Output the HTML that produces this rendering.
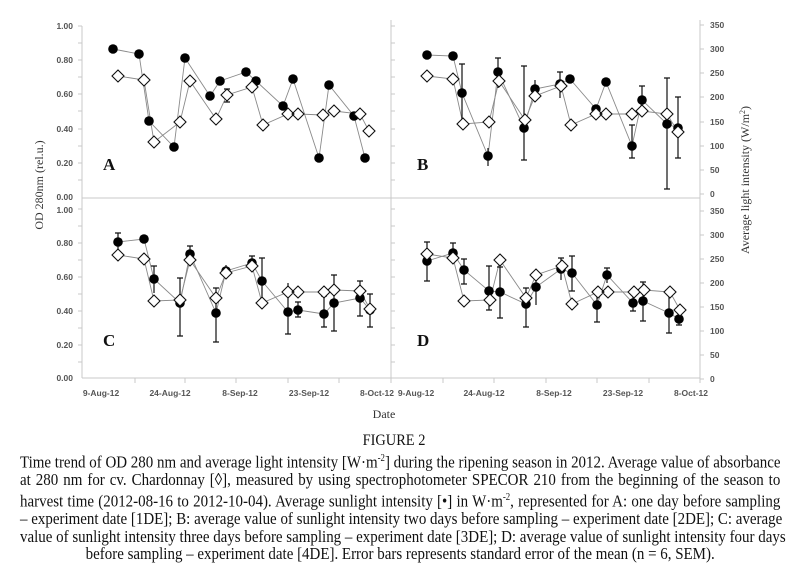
<!DOCTYPE html>
<html><head><meta charset="utf-8"><style>
body{margin:0;background:#fff;width:788px;height:574px;overflow:hidden;position:relative}
svg{position:absolute;left:0;top:0}
.cap{position:absolute;left:20px;top:450px;width:864px;transform:scaleX(0.88);transform-origin:0 0;font-family:"Liberation Serif",serif;font-size:17px;line-height:17.6px;color:#111}
.cap div{text-align:justify;text-align-last:justify;white-space:nowrap}
.cap div.c{text-align:center;text-align-last:center}
.fig{position:absolute;left:0;width:788px;top:432px;text-align:center;font-family:"Liberation Serif",serif;font-size:16px;transform:scaleX(0.9);color:#111}
</style></head><body>
<svg width="788" height="430" viewBox="0 0 788 430" font-family="Liberation Sans, sans-serif">
<g stroke="#c8c8c8" stroke-width="1" fill="none">
<path d="M82 26V378 M391 20V378 M700 20V378 M82 198H700 M82 378H700"/>
</g>
<g id="ticks" stroke="#c8c8c8" stroke-width="1">
<path d="M78 26H82M78 43H82M78 60H82M78 77H82M78 94H82M78 111H82M78 129H82M78 146H82M78 163H82M78 180H82"/>
<path d="M78 209H82M78 226H82M78 243H82M78 260H82M78 277H82M78 294H82M78 311H82M78 328H82M78 345H82M78 362H82"/>
<path d="M391 26H395M391 43H395M391 60H395M391 77H395M391 94H395M391 111H395M391 129H395M391 146H395M391 163H395M391 180H395"/>
<path d="M391 209H395M391 226H395M391 243H395M391 260H395M391 277H395M391 294H395M391 311H395M391 328H395M391 345H395M391 362H395"/>
<path d="M700 25H704M700 49H704M700 73H704M700 97H704M700 122H704M700 146H704M700 170H704M700 194H704"/>
<path d="M700 211H704M700 235H704M700 259H704M700 283H704M700 307H704M700 331H704M700 355H704M700 379H704"/>
<path d="M135 378V383M185 378V383M236 378V383M288 378V383M339 378V383M391 378V383M443 378V383M494 378V383M546 378V383M597 378V383M649 378V383M700 378V383"/>
</g>
<g font-size="8.5" font-weight="bold" fill="#555" text-anchor="end">
<text x="73" y="29">1.00</text><text x="73" y="63">0.80</text><text x="73" y="97">0.60</text><text x="73" y="132">0.40</text><text x="73" y="166">0.20</text><text x="73" y="200">0.00</text>
<text x="73" y="213">1.00</text><text x="73" y="246">0.80</text><text x="73" y="280">0.60</text><text x="73" y="314">0.40</text><text x="73" y="348">0.20</text><text x="73" y="381">0.00</text>
</g>
<g font-size="8.5" font-weight="bold" fill="#555" text-anchor="start">
<text x="710" y="28">350</text><text x="710" y="52">300</text><text x="710" y="76">250</text><text x="710" y="100">200</text><text x="710" y="125">150</text><text x="710" y="149">100</text><text x="710" y="173">50</text><text x="710" y="197">0</text>
<text x="710" y="214">350</text><text x="710" y="238">300</text><text x="710" y="262">250</text><text x="710" y="286">200</text><text x="710" y="310">150</text><text x="710" y="334">100</text><text x="710" y="358">50</text><text x="710" y="382">0</text>
</g>
<g font-size="8.5" font-weight="bold" fill="#555" text-anchor="middle">
<text x="101" y="396">9-Aug-12</text><text x="170" y="396">24-Aug-12</text><text x="240" y="396">8-Sep-12</text><text x="309" y="396">23-Sep-12</text><text x="377" y="396">8-Oct-12</text>
<text x="416" y="396">9-Aug-12</text><text x="484" y="396">24-Aug-12</text><text x="554" y="396">8-Sep-12</text><text x="623" y="396">23-Sep-12</text><text x="691" y="396">8-Oct-12</text>
</g>
<g font-family="Liberation Serif, serif" font-size="12" fill="#333">
<text transform="translate(43,185) rotate(-90)" text-anchor="middle">OD 280nm (rel.u.)</text>
<text transform="translate(749,180) rotate(-90)" text-anchor="middle">Average light intensity (W/m<tspan font-size="8" dy="-4">2</tspan><tspan dy="4">)</tspan></text>
<text x="384" y="418" text-anchor="middle">Date</text>
</g>
<g font-family="Liberation Serif, serif" font-size="17" font-weight="bold" fill="#111">
<text x="103" y="170">A</text><text x="417" y="170">B</text><text x="103" y="346">C</text><text x="417" y="346">D</text>
</g>
<g fill="none" stroke="#8a8a8a" stroke-width="0.9">
<polyline points="113,49 139,54 149,121 174,147 185,58 210,96 220,81 246,72 256,81 283,106 293,79 319,158 329,85 354,116 365,158"/>
<polyline points="118,76 144,80 154,142 180,122 190,81 216,119 227,95 252,87 263,125 288,114 298,114 323,115 334,111 360,114 369,131"/>
<polyline points="427,55 453,56 462,93 488,156 498,72 524,128 535,89 560,84 570,79 596,109 606,82 632,146 642,100 667,124 678,128"/>
<polyline points="427,76 453,79 463,124 489,122 499,81 525,120 535,96 561,86 571,125 596,114 606,114 632,114 642,111 667,114 678,132"/>
<polyline points="118,242 144,239 154,279 180,303 190,254 216,313 226,271 252,263 262,281 288,312 298,310 324,314 334,303 360,298 370,310"/>
<polyline points="118,255 144,259 154,301 180,300 190,260 216,298 226,273 252,266 262,303 288,292 298,292 324,292 334,290 360,291 370,309"/>
<polyline points="427,261 453,253 464,270 489,291 500,292 526,304 536,287 561,269 572,273 597,305 607,275 633,303 643,301 669,313 679,319"/>
<polyline points="427,254 453,258 464,301 490,300 500,260 526,298 536,275 562,266 572,304 598,292 608,292 634,292 644,290 670,292 680,310"/>
</g>
<g stroke="#111" stroke-width="1.2" fill="none">
<path d="M227 89V102M224 89H230M224 102H230"/>
<path d="M427 52V58M462 64V121M459 64H465M488 148V166M498 58V88M495 58H501M524 66V160M521 66H527M521 160H527M535 80V98M560 72V98M557 72H563M632 125V158M629 125H635M629 158H635M642 86V117M639 86H645M667 78V189M664 78H670M664 189H670M678 97V158M675 97H681M675 158H681"/>
<path d="M118 233V250M115 233H121M154 266V293M151 266H157M180 278V336M177 278H183M177 336H183M190 246V263M187 246H193M216 288V342M213 288H219M213 342H219M226 265V278M252 256V270M249 256H255M262 258V298M259 258H265M288 283V334M285 334H291M298 302V317M295 302H301M295 317H301M324 296V327M321 296H327M321 327H327M334 275V331M331 275H337M331 331H337M360 281V316M357 281H363M357 316H363M370 294V327M367 294H373M367 327H373"/>
<path d="M427 242V281M424 242H430M424 281H430M453 243V263M450 243H456M464 259V284M461 259H467M461 284H467M489 266V310M486 266H492M486 310H492M500 267V318M497 267H503M497 318H503M526 288V327M523 288H529M523 327H529M536 276V305M561 258V280M558 258H564M572 256V291M569 256H575M569 291H575M597 287V322M594 322H600M607 268V283M604 268H610M633 297V311M630 311H636M643 282V321M640 282H646M640 321H646M669 297V333M666 333H672M679 313V325M676 325H682"/>
</g>
<g fill="#000">
<circle cx="113" cy="49" r="4.8"/><circle cx="139" cy="54" r="4.8"/><circle cx="149" cy="121" r="4.8"/><circle cx="174" cy="147" r="4.8"/><circle cx="185" cy="58" r="4.8"/><circle cx="210" cy="96" r="4.8"/><circle cx="220" cy="81" r="4.8"/><circle cx="246" cy="72" r="4.8"/><circle cx="256" cy="81" r="4.8"/><circle cx="283" cy="106" r="4.8"/><circle cx="293" cy="79" r="4.8"/><circle cx="319" cy="158" r="4.8"/><circle cx="329" cy="85" r="4.8"/><circle cx="354" cy="116" r="4.8"/><circle cx="365" cy="158" r="4.8"/>
<circle cx="427" cy="55" r="4.8"/><circle cx="453" cy="56" r="4.8"/><circle cx="462" cy="93" r="4.8"/><circle cx="488" cy="156" r="4.8"/><circle cx="498" cy="72" r="4.8"/><circle cx="524" cy="128" r="4.8"/><circle cx="535" cy="89" r="4.8"/><circle cx="560" cy="84" r="4.8"/><circle cx="570" cy="79" r="4.8"/><circle cx="596" cy="109" r="4.8"/><circle cx="606" cy="82" r="4.8"/><circle cx="632" cy="146" r="4.8"/><circle cx="642" cy="100" r="4.8"/><circle cx="667" cy="124" r="4.8"/><circle cx="678" cy="128" r="4.8"/>
<circle cx="118" cy="242" r="4.8"/><circle cx="144" cy="239" r="4.8"/><circle cx="154" cy="279" r="4.8"/><circle cx="180" cy="303" r="4.8"/><circle cx="190" cy="254" r="4.8"/><circle cx="216" cy="313" r="4.8"/><circle cx="226" cy="271" r="4.8"/><circle cx="252" cy="263" r="4.8"/><circle cx="262" cy="281" r="4.8"/><circle cx="288" cy="312" r="4.8"/><circle cx="298" cy="310" r="4.8"/><circle cx="324" cy="314" r="4.8"/><circle cx="334" cy="303" r="4.8"/><circle cx="360" cy="298" r="4.8"/><circle cx="370" cy="310" r="4.8"/>
<circle cx="427" cy="261" r="4.8"/><circle cx="453" cy="253" r="4.8"/><circle cx="464" cy="270" r="4.8"/><circle cx="489" cy="291" r="4.8"/><circle cx="500" cy="292" r="4.8"/><circle cx="526" cy="304" r="4.8"/><circle cx="536" cy="287" r="4.8"/><circle cx="561" cy="269" r="4.8"/><circle cx="572" cy="273" r="4.8"/><circle cx="597" cy="305" r="4.8"/><circle cx="607" cy="275" r="4.8"/><circle cx="633" cy="303" r="4.8"/><circle cx="643" cy="301" r="4.8"/><circle cx="669" cy="313" r="4.8"/><circle cx="679" cy="319" r="4.8"/>
</g>
<g fill="#fff" stroke="#111" stroke-width="1.1" id="dia">
<path d="M118 70l6 6-6 6-6-6zM144 74l6 6-6 6-6-6zM154 136l6 6-6 6-6-6zM180 116l6 6-6 6-6-6zM190 75l6 6-6 6-6-6zM216 113l6 6-6 6-6-6zM227 89l6 6-6 6-6-6zM252 81l6 6-6 6-6-6zM263 119l6 6-6 6-6-6zM288 108l6 6-6 6-6-6zM298 108l6 6-6 6-6-6zM323 109l6 6-6 6-6-6zM334 105l6 6-6 6-6-6zM360 108l6 6-6 6-6-6zM369 125l6 6-6 6-6-6z"/>
<path d="M427 70l6 6-6 6-6-6zM453 73l6 6-6 6-6-6zM463 118l6 6-6 6-6-6zM489 116l6 6-6 6-6-6zM499 75l6 6-6 6-6-6zM525 114l6 6-6 6-6-6zM535 90l6 6-6 6-6-6zM561 80l6 6-6 6-6-6zM571 119l6 6-6 6-6-6zM596 108l6 6-6 6-6-6zM606 108l6 6-6 6-6-6zM632 108l6 6-6 6-6-6zM642 105l6 6-6 6-6-6zM667 108l6 6-6 6-6-6zM678 126l6 6-6 6-6-6z"/>
<path d="M118 249l6 6-6 6-6-6zM144 253l6 6-6 6-6-6zM154 295l6 6-6 6-6-6zM180 294l6 6-6 6-6-6zM190 254l6 6-6 6-6-6zM216 292l6 6-6 6-6-6zM226 267l6 6-6 6-6-6zM252 260l6 6-6 6-6-6zM262 297l6 6-6 6-6-6zM288 286l6 6-6 6-6-6zM298 286l6 6-6 6-6-6zM324 286l6 6-6 6-6-6zM334 284l6 6-6 6-6-6zM360 285l6 6-6 6-6-6zM370 303l6 6-6 6-6-6z"/>
<path d="M427 248l6 6-6 6-6-6zM453 252l6 6-6 6-6-6zM464 295l6 6-6 6-6-6zM490 294l6 6-6 6-6-6zM500 254l6 6-6 6-6-6zM526 292l6 6-6 6-6-6zM536 269l6 6-6 6-6-6zM562 260l6 6-6 6-6-6zM572 298l6 6-6 6-6-6zM598 286l6 6-6 6-6-6zM608 286l6 6-6 6-6-6zM634 286l6 6-6 6-6-6zM644 284l6 6-6 6-6-6zM670 286l6 6-6 6-6-6zM680 304l6 6-6 6-6-6z"/>
</g>
</svg>
<div class="fig">FIGURE 2</div>
<div class="cap">
<div>Time trend of OD 280 nm and average light intensity [W·m<sup style="font-size:10px">-2</sup>] during the ripening season in 2012. Average value of absorbance</div>
<div>at 280 nm for cv. Chardonnay [◊], measured by using spectrophotometer SPECOR 210 from the beginning of the season to</div>
<div>harvest time (2012-08-16 to 2012-10-04). Average sunlight intensity [•] in W·m<sup style="font-size:10px">-2</sup>, represented for A: one day before sampling</div>
<div>– experiment date [1DE]; B: average value of sunlight intensity two days before sampling – experiment date [2DE]; C: average</div>
<div>value of sunlight intensity three days before sampling – experiment date [3DE]; D: average value of sunlight intensity four days</div>
<div class="c">before sampling – experiment date [4DE]. Error bars represents standard error of the mean (n = 6, SEM).</div>
</div>
</body></html>
